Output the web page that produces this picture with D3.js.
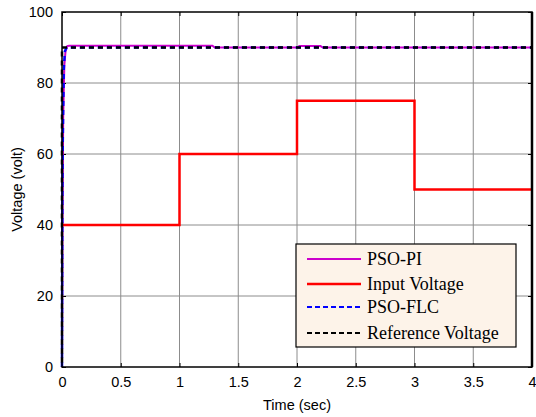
<!DOCTYPE html>
<html>
<head>
<meta charset="utf-8">
<script src="https://cdn.jsdelivr.net/npm/d3@7"></script>
<style>
  body { margin: 0; background: #fff; }
  svg { display: block; }
</style>
</head>
<body>
<div id="plot"></div>
<script>
// Data
const xTicks = [0, 0.5, 1, 1.5, 2, 2.5, 3, 3.5, 4];
const xTickLabels = ["0", "0.5", "1", "1.5", "2", "2.5", "3", "3.5", "4"];
const yTicks = [0, 20, 40, 60, 80, 100];

const inputTime = [0, 1, 1, 2, 2, 3, 3, 4];
const inputVolt = [40, 40, 60, 60, 75, 75, 50, 50];

const piTime = [0, 0.004, 0.01, 0.02, 0.03, 0.045, 0.06, 1.28, 1.3, 2.0, 2.02, 2.2, 2.22, 4];
const piVolt = [0, 40, 70, 85, 89, 90.4, 90.5, 90.5, 90, 90, 90.4, 90.4, 90, 90];

const flcTime = [0, 0.003, 0.006, 0.01, 0.015, 0.025, 0.04, 4];
const flcVolt = [0, 47, 62, 73, 84, 89, 90, 90];

const refTime = [0, 0, 4];
const refVolt = [0, 90, 90];

const legendNames = ["PSO-PI", "Input Voltage", "PSO-FLC", "Reference Voltage"];

const W = 536, H = 417;
const margin = { top: 12, right: 4, bottom: 50, left: 62 };
const width = W - margin.left - margin.right;
const height = H - margin.top - margin.bottom;

const svg = d3.select("#plot")
    .append("svg")
    .attr("width", W)
    .attr("height", H);

const g = svg.append("g")
    .attr("transform", `translate(${margin.left},${margin.top})`);

const x = d3.scaleLinear().domain([0, 4]).range([0, width]);
const y = d3.scaleLinear().domain([0, 100]).range([height, 0]);

// grid
g.append("g").selectAll("line")
    .data(xTicks.slice(1, -1))
    .enter().append("line")
    .attr("x1", d => x(d)).attr("x2", d => x(d))
    .attr("y1", 0).attr("y2", height)
    .attr("stroke", "#8c8c8c").attr("stroke-width", 1);
g.append("g").selectAll("line")
    .data(yTicks.slice(1, -1))
    .enter().append("line")
    .attr("x1", 0).attr("x2", width)
    .attr("y1", d => y(d)).attr("y2", d => y(d))
    .attr("stroke", "#8c8c8c").attr("stroke-width", 1);

// axes (inward ticks)
const xAxis = g.append("g")
    .attr("transform", `translate(0,${height})`)
    .call(d3.axisBottom(x).tickValues(xTicks).tickFormat((d, i) => xTickLabels[i]).tickSize(-4).tickPadding(10));
const yAxis = g.append("g")
    .call(d3.axisLeft(y).tickValues(yTicks).tickSize(-4).tickPadding(9));
[xAxis, yAxis].forEach(a => {
    a.select(".domain").remove();
    a.selectAll("text").attr("font-family", "Arial, 'Liberation Sans', sans-serif")
        .attr("font-size", 14.5).attr("fill", "#000");
    a.selectAll("line").attr("stroke", "#000");
});
g.append("g").call(d3.axisTop(x).tickValues(xTicks).tickSize(-4).tickFormat(""))
    .call(s => s.select(".domain").remove());
g.append("g").attr("transform", `translate(${width},0)`)
    .call(d3.axisRight(y).tickValues(yTicks).tickSize(-4).tickFormat(""))
    .call(s => s.select(".domain").remove());

const line = d3.line().x(d => x(d[0])).y(d => y(d[1]));
const zip = (a, b) => a.map((t, i) => [t, b[i]]);

g.append("path").datum(zip(piTime, piVolt))
    .attr("d", line).attr("fill", "none")
    .attr("stroke", "#cc00cc").attr("stroke-width", 2);
g.append("path").datum(zip(inputTime, inputVolt))
    .attr("d", line).attr("fill", "none")
    .attr("stroke", "#ff0000").attr("stroke-width", 2.5);
g.append("path").datum(zip(flcTime, flcVolt))
    .attr("d", line).attr("fill", "none")
    .attr("stroke", "#0000ff").attr("stroke-width", 2.5)
    .attr("stroke-dasharray", "5,4");
g.append("path").datum(zip(refTime, refVolt))
    .attr("d", line).attr("fill", "none")
    .attr("stroke", "#000").attr("stroke-width", 2.5)
    .attr("stroke-dasharray", "5,4").attr("stroke-dashoffset", 4.5);

// box
g.append("rect").attr("x", 0).attr("y", 0).attr("width", width).attr("height", height)
    .attr("fill", "none").attr("stroke", "#000").attr("stroke-width", 1.5);
g.append("line").attr("x1", width).attr("x2", width).attr("y1", 0).attr("y2", height)
    .attr("stroke", "#000").attr("stroke-width", 2.5);

// axis labels
svg.append("text")
    .attr("x", margin.left + width / 2).attr("y", 410)
    .attr("text-anchor", "middle")
    .attr("font-family", "Arial, 'Liberation Sans', sans-serif").attr("font-size", 14.5)
    .text("Time (sec)");
svg.append("text")
    .attr("transform", `translate(22,${margin.top + height / 2}) rotate(-90)`)
    .attr("text-anchor", "middle")
    .attr("font-family", "Arial, 'Liberation Sans', sans-serif").attr("font-size", 14.5)
    .text("Voltage (volt)");

// legend
const legend = svg.append("g").attr("transform", "translate(296,244)");
legend.append("rect").attr("width", 220).attr("height", 103)
    .attr("fill", "#fdf3e9").attr("stroke", "#000").attr("stroke-width", 1.2);
const legStyles = [
    { c: "#cc00cc", dash: null, w: 2 },
    { c: "#ff0000", dash: null, w: 2.5 },
    { c: "#0000ff", dash: "5,3", w: 2 },
    { c: "#000", dash: "5,3", w: 2 }
];
const rowY = [15, 40, 63, 89];
legendNames.forEach((name, i) => {
    const row = legend.append("g").attr("transform", `translate(0,${rowY[i]})`);
    row.append("line").attr("x1", 11).attr("x2", 65)
        .attr("stroke", legStyles[i].c).attr("stroke-width", legStyles[i].w)
        .attr("stroke-dasharray", legStyles[i].dash);
    row.append("text").attr("x", 71).attr("y", 6)
        .attr("font-family", "'Times New Roman', 'Liberation Serif', serif")
        .attr("font-size", 18)
        .text(name);
});
</script>
</body>
</html>
